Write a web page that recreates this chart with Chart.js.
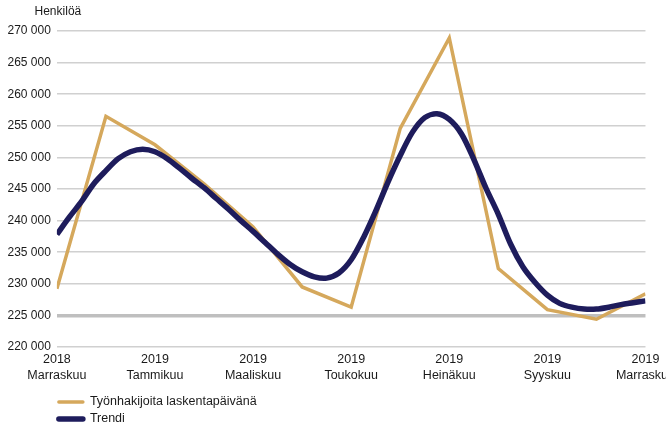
<!DOCTYPE html>
<html>
<head>
<meta charset="utf-8">
<script src="https://cdn.jsdelivr.net/npm/chart.js@4/dist/chart.umd.min.js"></script>
<style>
  html, body { margin: 0; padding: 0; background: #fff; overflow: hidden; }
  #wrap { position: relative; width: 680px; height: 425px; }
</style>
</head>
<body>
<div id="wrap"><canvas id="chart1"></canvas></div>
<script>
// x axis: months from 2018 Marraskuu (0) to 2019 Marraskuu (12)
var tickYears = ["2018", "2019", "2019", "2019", "2019", "2019", "2019"];
var tickMonths = ["Marraskuu", "Tammikuu", "Maaliskuu", "Toukokuu", "Heinäkuu", "Syyskuu", "Marraskuu"];

// Työnhakijoita laskentapäivänä, one value per month
var jobseekers = [229200, 256500, 252000, 245800, 239000, 229500, 226300, 254600, 268900, 232400, 225900, 224400, 228400];

// Trendi, read every quarter month
var trendStep = 0.25;
var trend = [
  237800, 240500, 243000, 245800,
  247900, 249800, 250900, 251300,
  250900, 249800, 248300, 246700,
  245200, 243500, 241800, 240000,
  238300, 236500, 234700, 233100,
  231900, 231100, 230900, 231700,
  233800, 237300, 241500, 246100,
  250300, 254000, 256300, 256900,
  256000, 253700, 249700, 245100,
  241000, 236300, 232700, 230200,
  228200, 226900, 226300, 226000,
  226000, 226300, 226700, 227000,
  227300
];

var textColor = "#1a1a1a";
var fontFamily = '"Liberation Sans", Arial, sans-serif';

//Henkilöä label and the two row legend under the axis
var extras = {
  id: 'extras',
  afterDraw: function(chart) {
    var c = chart.ctx;
    var left = chart.chartArea.left;
    c.save();
    c.font = '12px ' + fontFamily;
    c.fillStyle = textColor;
    c.textAlign = 'center';
    c.textBaseline = 'middle';
    c.fillText('Henkilöä', left + 1, 12);
    chart.data.datasets.forEach(function(ds, i) {
      var y = 402 + i * 17;
      c.strokeStyle = ds.borderColor;
      c.lineWidth = ds.borderWidth;
      c.lineCap = 'round';
      c.beginPath();
      c.moveTo(left + 2, y);
      c.lineTo(left + 26, y);
      c.stroke();
      c.textAlign = 'left';
      c.font = '12.5px ' + fontFamily;
      c.fillText(ds.label, left + 33, y);
    });
    c.restore();
  }
};

var ctx = document.getElementById("chart1").getContext('2d');

var myChart = new Chart(ctx, {
  type: 'line',
  data: {
    datasets: [{
      label: 'Työnhakijoita laskentapäivänä',
      data: jobseekers.map(function(v, i) { return { x: i, y: v }; }),
      borderColor: "#d5a85c",
      borderWidth: 3.5,
      pointRadius: 0,
      tension: 0,
      order: 2
    }, {
      label: 'Trendi',
      data: trend.map(function(v, i) { return { x: i * trendStep, y: v }; }),
      borderColor: "#1e1c5c",
      borderWidth: 5.5,
      pointRadius: 0,
      tension: 0.3,
      order: 1
    }]
  },
  options: {
    responsive: true,
    maintainAspectRatio: false,
    animation: false,
    layout: {
      padding: { left: 1.5, top: 31, right: 0, bottom: 36 }
    },
    plugins: {
      legend: { display: false },
      tooltip: { enabled: false }
    },
    scales: {
      x: {
        type: 'linear',
        min: 0,
        max: 12,
        border: { display: false },
        grid: { display: false, drawTicks: false },
        ticks: {
          stepSize: 2,
          autoSkip: false,
          maxRotation: 0,
          padding: 5,
          color: textColor,
          font: { family: fontFamily, size: 12.5, lineHeight: 1.28 },
          callback: function(value) {
            var k = Math.round(value / 2);
            return [tickYears[k], tickMonths[k]];
          }
        }
      },
      y: {
        min: 220000,
        max: 270000,
        border: { display: false },
        grid: {
          drawTicks: false,
          color: function(c) { return c.tick && c.tick.value === 225000 ? "#bfbfbf" : "#d0d0d0"; },
          lineWidth: function(c) { return c.tick && c.tick.value === 225000 ? 3.5 : 1.5; }
        },
        ticks: {
          stepSize: 5000,
          padding: 6,
          color: textColor,
          font: { family: fontFamily, size: 12 },
          callback: function(value) {
            return String(value).replace(/\B(?=(\d{3})+(?!\d))/g, ' ');
          }
        }
      }
    }
  },
  plugins: [extras]
});
</script>
</body>
</html>
